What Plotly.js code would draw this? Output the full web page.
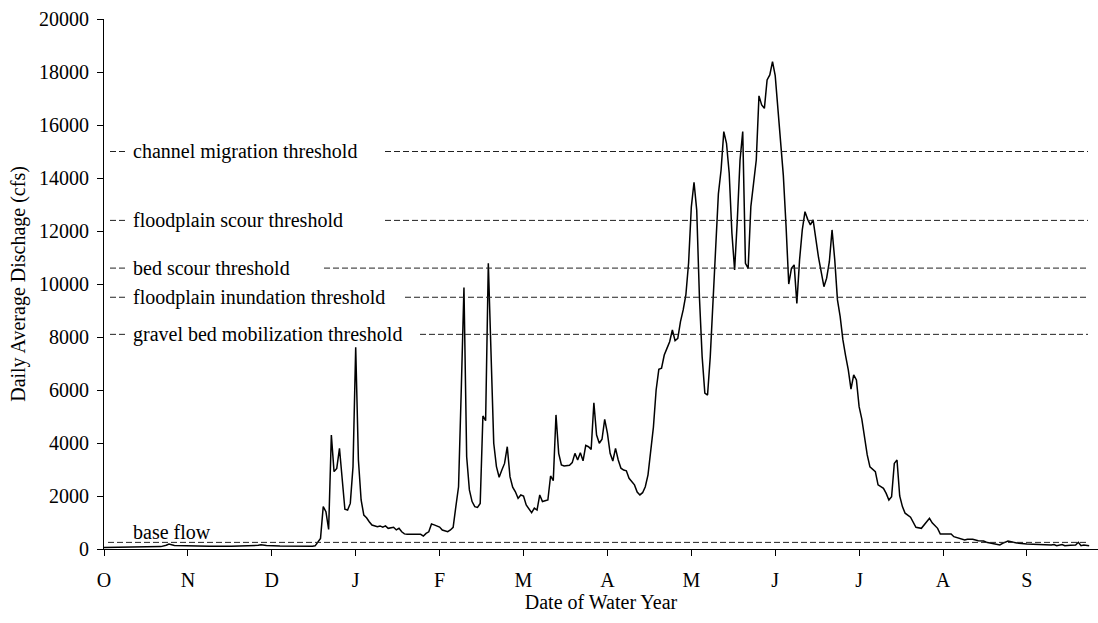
<!DOCTYPE html>
<html>
<head>
<meta charset="utf-8">
<script src="https://cdn.plot.ly/plotly-3.0.1.min.js"></script>
<style>html,body{margin:0;padding:0;background:#fff;}#chart{width:1098px;height:623px;}</style>
</head>
<body>
<div id="chart"></div>
<script>
// Day of the water year (0 = 1 October) and daily average discharge (cfs)
const dayOfYear = [0,6,13,21,23,24,26,32,39,47,54,57,58,60,65,72,77,78,80,81,82,83,84,85,86,87,88,89,90,91,92,93,94,95,96,97,98,99,101,102,103,104,105,107,108,109,110,111,112,117,118,119,120,121,122,124,125,127,128,129,130,131,132,133,134,135,136,137,138,139,140,141,142,143,144,145,146,147,148,149,150,151,152,153,154,155,156,158,159,160,161,162,164,165,166,167,168,169,170,172,173,174,175,176,177,178,179,180,181,182,183,184,185,186,187,188,189,190,191,192,193,194,196,197,198,199,200,201,202,203,204,205,206,207,208,209,210,211,212,213,214,215,216,217,218,219,220,221,222,223,224,225,226,227,228,229,230,231,232,233,234,235,236,237,238,239,240,241,242,243,244,245,246,247,248,249,250,251,252,253,254,255,256,257,258,259,260,261,262,263,264,266,267,268,269,270,271,272,273,274,275,276,277,278,279,280,281,282,283,285,286,288,289,290,291,292,293,294,295,296,298,299,300,302,303,304,305,306,308,309,311,313,314,316,318,319,321,323,325,326,328,330,331,332,334,336,338,341,345,348,350,351,352,354,355,357,359,360,361,362,364];
const dischargeCfs = [60,70,80,90,140,190,130,110,100,100,110,140,160,130,110,100,100,120,400,1600,1410,740,4300,2920,3040,3800,2480,1500,1470,1720,3100,7610,3360,1850,1280,1180,1030,905,840,870,820,870,780,820,720,780,650,570,555,555,490,590,650,943,910,830,717,653,717,818,1600,2350,6000,9870,3480,2230,1790,1600,1570,1720,5020,4840,10780,7510,3990,3110,2710,2980,3230,3860,2730,2330,2160,1910,2040,2000,1660,1370,1540,1470,2040,1790,1850,2755,2580,5060,3610,3170,3130,3160,3260,3610,3360,3630,3330,3910,3860,3760,5520,4300,3990,4140,4890,4370,3610,3320,3800,3360,3050,2980,2950,2670,2420,2150,2040,2125,2350,2800,3700,4600,6000,6780,6820,7320,7570,7820,8265,7860,7950,8580,9020,9600,10800,12900,13840,12790,9500,7260,5880,5810,7260,9270,11800,13400,14300,15750,15310,14180,11920,10530,12420,14680,15750,10780,10590,12920,13800,14680,17100,16760,16630,17700,17890,18390,17860,16700,15500,14100,12200,10000,10590,10720,9270,10910,12040,12730,12440,12230,12420,11700,11000,9900,10220,10840,12040,10910,9400,8770,7900,7300,6760,6030,6570,6380,5370,4900,4200,3550,3100,2920,2420,2290,2100,1850,1970,3230,3360,2000,1600,1350,1200,990,820,780,905,1030,1160,990,780,566,555,566,464,403,340,366,366,313,302,253,215,177,151,215,302,253,215,189,162,151,150,170,125,170,125,140,150,253,125,150,125];

// Axis tick labels (month initials, one tick per 31 days)
const monthTickDays = [0,31,62,93,124,155,186,217,248,279,310,341];
const monthLabels = ['O','N','D','J','F','M','A','M','J','J','A','S'];

// Threshold levels (cfs) and their names
const thresholdNames = ['channel migration threshold','floodplain scour threshold','bed scour threshold','floodplain inundation threshold','gravel bed mobilization threshold'];
const thresholdValues = [15000, 12400, 10600, 9500, 8100];
const baseFlowName = 'base flow';
const baseFlowValue = 250;

// Layout helpers (pixel positions of the label gaps)
const plotLeft = 104, pxPerDay = 2.7065;
const toDay = px => (px - plotLeft) / pxPerDay;
const gapEndPx = [385, 385, 324, 405, 420];
const dashStart = toDay(110), dashLeftEnd = toDay(126), dashEnd = toDay(1088);

const FONT = 'Liberation Serif, Times New Roman, serif';
const lineStyle = {color: '#222', width: 1, dash: '6px,3px'};

const shapes = [];
const annotations = [];
thresholdValues.forEach((v, i) => {
  shapes.push({type: 'line', xref: 'x', yref: 'y', x0: dashStart, x1: dashLeftEnd, y0: v, y1: v, line: lineStyle});
  shapes.push({type: 'line', xref: 'x', yref: 'y', x0: toDay(gapEndPx[i]), x1: dashEnd, y0: v, y1: v, line: lineStyle});
  annotations.push({xref: 'x', yref: 'y', x: toDay(131), y: v, xanchor: 'left', yanchor: 'middle',
    text: thresholdNames[i], showarrow: false, font: {family: FONT, size: 20, color: '#000'}});
});
shapes.push({type: 'line', xref: 'x', yref: 'y', x0: toDay(108), x1: dashEnd, y0: baseFlowValue, y1: baseFlowValue, line: lineStyle});
annotations.push({xref: 'x', yref: 'y', x: toDay(131), y: baseFlowValue, xanchor: 'left', yanchor: 'bottom', yshift: -3,
  text: baseFlowName, showarrow: false, font: {family: FONT, size: 20, color: '#000'}});

const trace = {
  x: dayOfYear, y: dischargeCfs, type: 'scatter', mode: 'lines',
  line: {color: '#000', width: 1.5}, hoverinfo: 'skip'
};

const layout = {
  width: 1098, height: 623,
  margin: {l: 104, r: 0, t: 19, b: 74},
  paper_bgcolor: '#fff', plot_bgcolor: '#fff',
  showlegend: false,
  font: {family: FONT, size: 20, color: '#000'},
  xaxis: {
    range: [0, (1098 - plotLeft) / pxPerDay],
    tickmode: 'array', tickvals: monthTickDays, ticktext: monthLabels,
    ticks: 'outside', ticklen: 6, tickcolor: '#000', tickwidth: 1,
    ticklabelstandoff: 7,
    showline: true, linecolor: '#000', linewidth: 1,
    showgrid: false, zeroline: false,
    tickfont: {family: FONT, size: 20, color: '#000'},
    title: {text: 'Date of Water Year', font: {family: FONT, size: 20, color: '#000'}, standoff: 4},
    automargin: false, fixedrange: true
  },
  yaxis: {
    range: [0, 20000], dtick: 2000, tick0: 0, tickformat: 'd',
    ticks: 'outside', ticklen: 6, tickcolor: '#000', tickwidth: 1,
    ticklabelstandoff: 4,
    showline: true, linecolor: '#000', linewidth: 1,
    showgrid: false, zeroline: false,
    tickfont: {family: FONT, size: 20, color: '#000'},
    title: {text: 'Daily Average Dischage (cfs)', font: {family: FONT, size: 20, color: '#000'}, standoff: 8},
    automargin: false, fixedrange: true
  },
  shapes: shapes,
  annotations: annotations
};

Plotly.newPlot('chart', [trace], layout, {staticPlot: true, displayModeBar: false});
</script>
</body>
</html>
